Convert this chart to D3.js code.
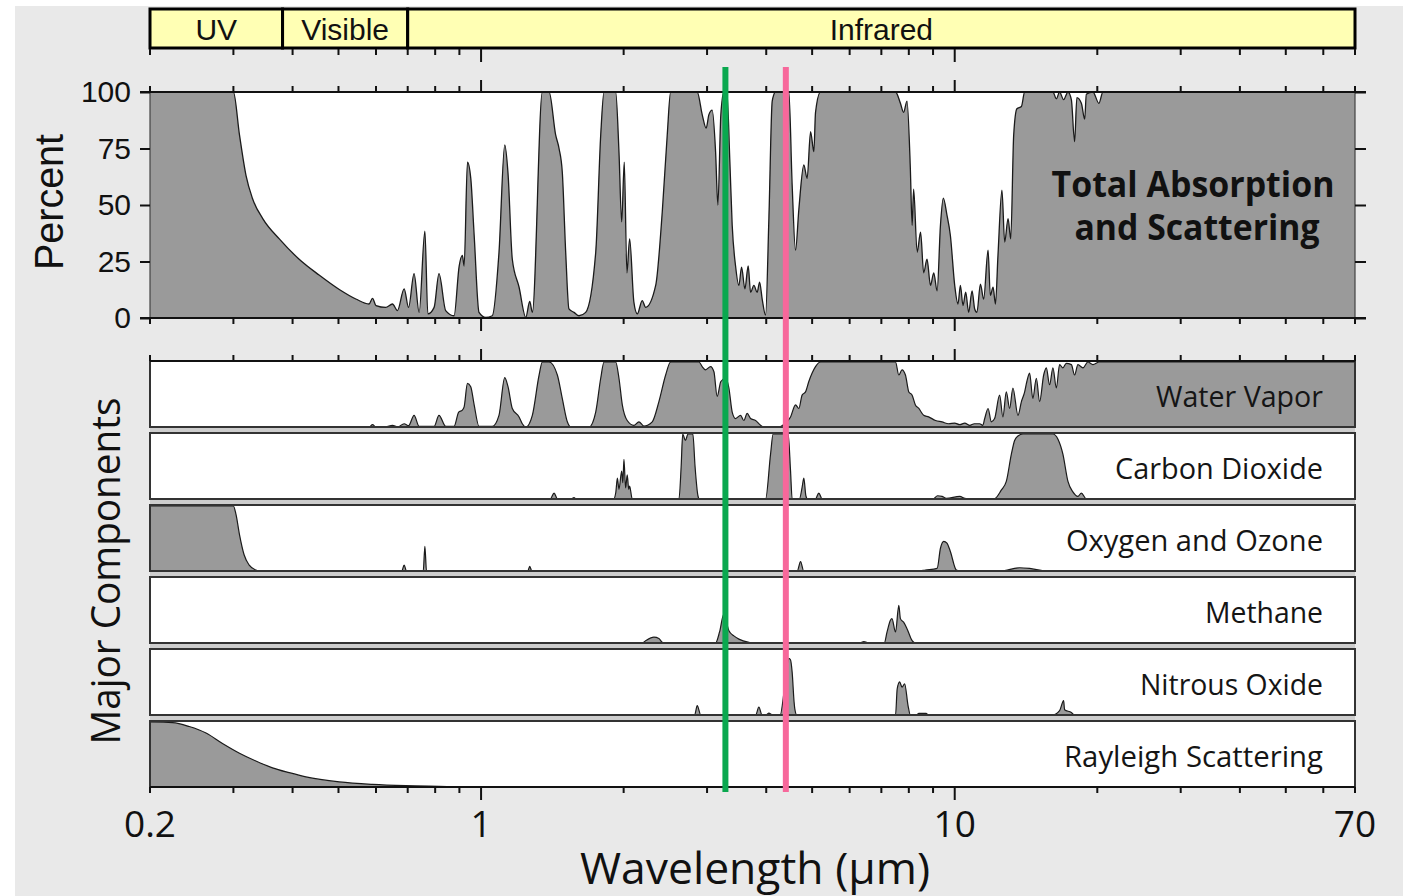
<!DOCTYPE html>
<html><head><meta charset="utf-8">
<script src="https://cdn.jsdelivr.net/npm/d3@7"></script>
<style>html,body{margin:0;padding:0;background:#fff;}svg{display:block}</style>
</head><body>
<svg id="chart" width="1403" height="896"></svg>
<script>
// ---------------- DATA ----------------
const regions = ["UV", "Visible", "Infrared"];
const regionBounds = [0.2, 0.381, 0.70, 70];          // µm
const percentTicks = [0, 25, 50, 75, 100];
const xTickLabels = [0.2, 1, 10, 70];
const majorTicks = [1, 10];
const markerWavelengths = [3.28, 4.40];               // green, pink
const totalLabel = ["Total Absorption", "and Scattering"];
const componentNames = ["Water Vapor", "Carbon Dioxide", "Oxygen and Ozone", "Methane", "Nitrous Oxide", "Rayleigh Scattering"];

// [wavelength µm, percent]
const totalAbsorption = [[0.2,100],[0.3,100],[0.309,81],[0.319,63],[0.329,53],[0.346,44],[0.375,35],[0.413,26],[0.455,19],[0.502,12.6],[0.544,8.4],[0.58,6.2],[0.59,8.7],[0.6,5.5],[0.629,4.7],[0.65,6.2],[0.666,3.3],[0.688,12.9],[0.703,4.7],[0.722,19.6],[0.74,2.5],[0.761,38.4],[0.772,1.8],[0.796,4.7],[0.815,19.6],[0.842,3.3],[0.877,1],[0.899,23],[0.913,27.7],[0.921,23],[0.936,69],[0.951,62],[0.967,36.6],[0.99,2.5],[1.023,0.3],[1.056,1],[1.091,29],[1.122,76.6],[1.14,64],[1.164,26],[1.203,13.6],[1.243,0.3],[1.267,7.3],[1.283,2.5],[1.347,100],[1.392,100],[1.437,81],[1.461,75],[1.484,64.7],[1.509,29],[1.533,4],[1.571,2.5],[1.61,1],[1.663,2.5],[1.746,29],[1.789,81],[1.818,100],[1.924,100],[1.955,73.6],[1.981,42.5],[2.006,69],[2.032,20],[2.059,35],[2.102,7],[2.137,1.8],[2.189,7.7],[2.226,4.7],[2.337,14.4],[2.413,47],[2.472,81],[2.513,100],[2.86,100],[2.93,90],[2.987,84],[3.027,90],[3.076,92],[3.127,73.6],[3.162,50],[3.208,90],[3.256,100],[3.304,100],[3.352,69],[3.39,41],[3.446,23],[3.502,14.4],[3.548,22.5],[3.606,12.9],[3.664,23],[3.707,11.4],[3.767,14.4],[3.828,11.4],[3.873,15.9],[3.922,8.4],[3.987,1.3],[4.052,44],[4.118,96],[4.186,100],[4.465,100],[4.537,59],[4.612,30],[4.687,48],[4.802,67.7],[4.88,61.8],[4.962,82.5],[5.042,73.6],[5.083,91],[5.207,100],[7.5,100],[7.68,95],[7.8,91],[7.93,96],[8.06,66],[8.13,41],[8.19,57],[8.33,29],[8.47,38],[8.6,20],[8.74,26],[8.89,14.4],[9.03,20],[9.18,12],[9.33,41],[9.46,53],[9.63,45.5],[9.79,36.6],[10,14.4],[10.16,6.2],[10.28,14.4],[10.41,5.5],[10.55,11.4],[10.7,2.5],[10.88,12],[11.02,4],[11.14,2.5],[11.33,15],[11.51,8.4],[11.76,30],[11.89,10],[12.05,13.6],[12.19,6.2],[12.34,27.7],[12.58,56.6],[12.75,33.6],[12.96,44],[13.13,35],[13.32,81],[13.53,92.6],[13.83,93.6],[14.05,100],[16.12,100],[16.39,97],[16.65,100],[16.98,96.6],[17.34,100],[17.63,96.6],[17.91,78],[18.11,97.5],[18.51,95],[18.81,88],[18.96,99],[19.58,100],[20.16,95],[20.55,100],[70,100]];

const waterVapor = [[0.2,0],[0.58,0],[0.59,3.6],[0.6,0],[0.629,0],[0.65,2.6],[0.666,0],[0.688,5],[0.703,2],[0.722,18],[0.74,1],[0.796,1],[0.815,18],[0.842,1],[0.877,1],[0.897,23],[0.913,26],[0.921,31],[0.936,67],[0.951,62],[0.967,34],[0.99,1],[1.056,1],[1.091,18],[1.122,76],[1.14,62],[1.164,28.5],[1.203,15.5],[1.222,5],[1.243,0],[1.283,18],[1.326,80],[1.347,100],[1.392,100],[1.449,80],[1.484,44],[1.521,8],[1.546,0],[1.69,0],[1.746,23],[1.789,75],[1.818,100],[1.924,100],[1.955,75],[1.987,34],[2.035,10],[2.102,2.6],[2.154,8],[2.207,1.5],[2.298,8],[2.374,39],[2.453,80],[2.513,100],[2.884,100],[2.93,93],[2.979,88],[3.052,93],[3.102,85],[3.151,47],[3.208,70],[3.287,75],[3.336,60],[3.39,23],[3.446,13],[3.531,18],[3.588,10],[3.646,21],[3.707,13],[3.798,10],[3.892,2.6],[3.954,0],[4.254,0],[4.378,5],[4.502,15.5],[4.612,34],[4.687,28.5],[4.762,49],[4.842,54],[4.92,70],[5.0,83],[5.083,93],[5.207,100],[7.5,100],[7.62,80],[7.74,88],[7.87,80],[8.0,54],[8.13,49],[8.26,34],[8.4,28.5],[8.6,18],[8.81,15.5],[9.11,10],[9.4,7.8],[9.71,5],[10.0,6],[10.25,3.6],[10.5,6],[10.76,2.6],[11.0,5],[11.29,5],[11.46,2.6],[11.57,13],[11.76,28.5],[11.95,8],[12.14,13],[12.44,49],[12.64,15.5],[12.85,54],[13.06,28.5],[13.27,60],[13.6,18],[13.83,39],[14.05,54],[14.2,70],[14.39,83],[14.62,44],[14.87,75],[15.11,39],[15.41,80],[15.61,91],[15.86,65],[16.12,91],[16.39,60],[16.65,96],[16.92,91],[17.2,98],[17.63,96],[17.91,80],[18.2,96],[18.65,91],[19.1,100],[19.58,96],[20.2,100],[70,100]];

const carbonDioxide = [[0.2,0],[1.40,0],[1.426,9],[1.45,0],[1.55,0],[1.571,2],[1.59,0],[1.905,0],[1.925,10],[1.94,32],[1.955,15],[1.981,43],[1.992,25],[2.003,61],[2.019,17],[2.035,37],[2.05,15],[2.059,20],[2.085,0],[2.617,0],[2.645,50],[2.665,100],[2.70,90],[2.735,100],[2.80,100],[2.83,50],[2.87,5],[2.89,0],[3.987,0],[4.085,69],[4.136,100],[4.45,100],[4.502,43],[4.537,0],[4.70,0],[4.76,17],[4.802,32],[4.85,5],[4.89,0],[5.08,0],[5.165,9],[5.25,0],[9.0,0],[9.2,5],[9.4,4],[9.6,1],[10.25,4],[10.5,1],[10.76,0],[12.1,0],[12.55,14],[12.85,27],[13.17,69],[13.38,90],[13.6,97],[13.93,100],[16.12,100],[16.52,92],[16.92,69],[17.34,27],[17.76,11],[18.2,4],[18.51,9],[18.96,0],[70,0]];

const oxygenOzone = [[0.2,100],[0.3,100],[0.3038,87],[0.309,56],[0.316,25],[0.324,9],[0.3346,1.5],[0.34,0],[0.68,0],[0.688,9],[0.696,0],[0.755,0],[0.761,38],[0.767,0],[1.255,0],[1.267,7],[1.28,0],[4.65,0],[4.726,14.5],[4.80,0],[8.4,0],[8.67,1.5],[9.18,4],[9.33,35],[9.48,45.6],[9.63,43],[9.79,30],[10.08,1.5],[10.3,0],[12.5,0],[13.71,5],[14.39,4],[15.61,0],[70,0]];

const methane = [[0.2,0],[2.189,0],[2.226,3.6],[2.317,9],[2.374,7],[2.413,1],[2.45,0],[3.127,0],[3.188,17],[3.256,45],[3.30,30],[3.336,19],[3.418,11],[3.502,6],[3.677,1],[3.75,0],[6.3,0],[6.427,2],[6.6,0],[7.1,0],[7.197,17],[7.316,35],[7.37,37.5],[7.5,17],[7.62,58],[7.68,37.5],[7.8,32],[7.93,22],[8.13,3.6],[8.26,0],[70,0]];

const nitrousOxide = [[0.2,0],[2.824,0],[2.86,14.5],[2.91,0],[3.80,0],[3.859,12],[3.92,0],[4.0,0],[4.052,3],[4.12,0],[4.28,0],[4.37,40],[4.465,87],[4.50,85],[4.537,66],[4.58,20],[4.597,9],[4.64,0],[7.5,0],[7.56,40],[7.65,51],[7.74,43],[7.84,48],[7.97,14.5],[8.06,0],[8.3,0],[8.4,2.6],[8.7,2.6],[8.8,0],[16.12,0],[16.65,6.7],[16.98,22],[17.06,8],[17.63,4],[17.91,0],[70,0]];

const rayleigh = [[0.2,100],[0.2233,99],[0.242,93],[0.2626,83],[0.2845,67],[0.309,52],[0.3346,40],[0.3628,29.5],[0.3936,22],[0.4268,15.5],[0.502,7.8],[0.59,4],[0.693,2],[0.815,1],[0.974,0],[70,0]];

const componentSeries = [waterVapor, carbonDioxide, oxygenOzone, methane, nitrousOxide, rayleigh];

// ---------------- DRAWING ----------------
const W = 1403, H = 896;
const L = 150, R = 1355;
const svg = d3.select("#chart");
const x = d3.scaleLog().domain([0.2, 70]).range([L, R]);
const allTicks = x.ticks();
const isMajor = d => majorTicks.some(m => Math.abs(m - d) < 1e-9);
const SANS = "'Liberation Sans', Arial, sans-serif";
const MYR = "'Open Sans', 'Noto Sans', sans-serif";
const FILL = "#9a9a9a";

svg.append("rect").attr("width", W).attr("height", H).attr("fill", "#fff");
svg.append("rect").attr("x", 15).attr("y", 6).attr("width", W - 15).attr("height", H - 6).attr("fill", "#e9e9e9");

// tick helper
function ticksAt(y, dir, minor, major) {
  const g = svg.append("g");
  g.selectAll("line").data(allTicks).join("line")
    .attr("x1", d => x(d)).attr("x2", d => x(d))
    .attr("y1", y).attr("y2", d => y + dir * (isMajor(d) ? major : minor))
    .attr("stroke", "#111").attr("stroke-width", 2);
}

// ---- region band ----
const bandTop = 9, bandBot = 48;
regions.forEach((r, i) => {
  const x0 = x(regionBounds[i]), x1 = x(regionBounds[i + 1]);
  svg.append("rect").attr("x", x0).attr("y", bandTop).attr("width", x1 - x0).attr("height", bandBot - bandTop)
    .attr("fill", "#ffffb4").attr("stroke", "#000").attr("stroke-width", 3);
  svg.append("text").attr("x", (x0 + x1) / 2).attr("y", 40).attr("text-anchor", "middle")
    .style("font-family", SANS).style("font-size", "30px").attr("fill", "#111").text(r);
});
ticksAt(bandBot + 1, 1, 6, 13);

// ---- top panel ----
const topY0 = 318, topY1 = 92;
const y = d3.scaleLinear().domain([0, 100]).range([topY0, topY1]);
svg.append("rect").attr("x", L).attr("y", topY1).attr("width", R - L).attr("height", topY0 - topY1).attr("fill", "#fff");
svg.append("clipPath").attr("id", "clipTop").append("rect")
  .attr("x", L).attr("y", topY1).attr("width", R - L).attr("height", topY0 - topY1);
const areaTop = d3.area().x(d => x(d[0])).y0(y(0)).y1(d => y(d[1])).curve(d3.curveMonotoneX);
const lineTop = d3.line().x(d => x(d[0])).y(d => y(d[1])).curve(d3.curveMonotoneX);
const gTop = svg.append("g").attr("clip-path", "url(#clipTop)");
gTop.append("path").datum(totalAbsorption).attr("d", areaTop).attr("fill", FILL);
gTop.append("path").datum(totalAbsorption).attr("d", lineTop).attr("fill", "none").attr("stroke", "#1a1a1a").attr("stroke-width", 1.3);
svg.append("rect").attr("x", L).attr("y", topY1).attr("width", R - L).attr("height", topY0 - topY1)
  .attr("fill", "none").attr("stroke", "#444").attr("stroke-width", 1.2);

// y axes
const yAxisL = svg.append("g").attr("transform", `translate(${L},0)`)
  .call(d3.axisLeft(y).tickValues(percentTicks).tickSize(10).tickPadding(9));
yAxisL.select(".domain").remove();
yAxisL.selectAll("line").attr("stroke", "#111").attr("stroke-width", 2);
yAxisL.selectAll("text").style("font-family", SANS).style("font-size", "30px").attr("fill", "#111");
const yAxisR = svg.append("g").attr("transform", `translate(${R},0)`)
  .call(d3.axisRight(y).tickValues(percentTicks).tickSize(11).tickFormat(""));
yAxisR.select(".domain").remove();
yAxisR.selectAll("line").attr("stroke", "#111").attr("stroke-width", 2);
[0, 100].forEach(v => svg.append("line").attr("x1", L - 10).attr("x2", R + 11)
  .attr("y1", y(v)).attr("y2", y(v)).attr("stroke", "#111").attr("stroke-width", 2.2));
ticksAt(topY1, -1, 6, 12);
ticksAt(topY0, 1, 6, 13);

svg.append("text").attr("transform", `translate(63,${(topY0 + topY1) / 2 - 3}) rotate(-90)`)
  .attr("text-anchor", "middle").style("font-family", SANS).style("font-size", "40px")
  .attr("textLength", 136).attr("lengthAdjust", "spacingAndGlyphs").attr("fill", "#111").text("Percent");

totalLabel.forEach((t, i) => {
  svg.append("text").attr("x", i === 0 ? 1193 : 1197).attr("y", i === 0 ? 197 : 240)
    .attr("text-anchor", "middle").style("font-family", MYR).style("font-weight", "700").style("font-size", "35px")
    .attr("textLength", i === 0 ? 283 : 245).attr("lengthAdjust", "spacingAndGlyphs")
    .attr("fill", "#111").text(t);
});

// ---- component panels ----
const panelTop0 = 361, panelH = 66, panelStep = 72;
const lowBottom = panelTop0 + panelStep * 5 + panelH;
svg.append("rect").attr("x", L).attr("y", panelTop0).attr("width", R - L).attr("height", lowBottom - panelTop0).attr("fill", "#cdcdcd");
const labelWidths = [167, 208, 257, 118, 183, 259];
componentSeries.forEach((series, i) => {
  const top = panelTop0 + i * panelStep, bot = top + panelH;
  const yp = d3.scaleLinear().domain([0, 100]).range([bot, top + 1]);
  svg.append("rect").attr("x", L).attr("y", top).attr("width", R - L).attr("height", panelH).attr("fill", "#fff");
  svg.append("clipPath").attr("id", "clipP" + i).append("rect").attr("x", L).attr("y", top).attr("width", R - L).attr("height", panelH);
  const g = svg.append("g").attr("clip-path", `url(#clipP${i})`);
  g.append("path").datum(series).attr("fill", FILL)
    .attr("d", d3.area().x(d => x(d[0])).y0(yp(0)).y1(d => yp(d[1])).curve(d3.curveMonotoneX));
  g.append("path").datum(series).attr("fill", "none").attr("stroke", "#1a1a1a").attr("stroke-width", 1.2)
    .attr("d", d3.line().x(d => x(d[0])).y(d => yp(d[1])).curve(d3.curveMonotoneX));
  svg.append("rect").attr("x", L).attr("y", top).attr("width", R - L).attr("height", panelH)
    .attr("fill", "none").attr("stroke", "#333").attr("stroke-width", 2);
  svg.append("text").attr("x", 1323).attr("y", top + 45.5).attr("text-anchor", "end")
    .style("font-family", MYR).style("font-size", "30px")
    .attr("textLength", labelWidths[i]).attr("lengthAdjust", "spacingAndGlyphs")
    .attr("fill", "#151515").text(componentNames[i]);
});
ticksAt(panelTop0, -1, 6, 12);
ticksAt(lowBottom, 1, 6, 13);
svg.append("line").attr("x1", L).attr("x2", R).attr("y1", panelTop0).attr("y2", panelTop0).attr("stroke", "#111").attr("stroke-width", 2);
svg.append("line").attr("x1", L).attr("x2", R).attr("y1", lowBottom).attr("y2", lowBottom).attr("stroke", "#111").attr("stroke-width", 2);

svg.append("text").attr("transform", `translate(120,${(panelTop0 + lowBottom) / 2 - 3}) rotate(-90)`)
  .attr("text-anchor", "middle").style("font-family", MYR).style("font-size", "40px")
  .attr("textLength", 347).attr("lengthAdjust", "spacingAndGlyphs").attr("fill", "#111").text("Major Components");

// ---- x labels ----
svg.append("g").selectAll("text").data(xTickLabels).join("text")
  .attr("x", d => x(d)).attr("y", 837).attr("text-anchor", "middle")
  .style("font-family", MYR).style("font-size", "37px").attr("fill", "#111")
  .text(d => d3.format("~g")(d));
svg.append("text").attr("x", 755).attr("y", 884).attr("text-anchor", "middle")
  .style("font-family", MYR).style("font-size", "44px")
  .attr("textLength", 350).attr("lengthAdjust", "spacingAndGlyphs").attr("fill", "#111").text("Wavelength (\u00b5m)");

// ---- marker lines ----
const markerColors = ["#0aa84f", "#f7689b"];
svg.append("g").selectAll("line").data(markerWavelengths).join("line")
  .attr("x1", d => x(d)).attr("x2", d => x(d)).attr("y1", 67).attr("y2", 792)
  .attr("stroke", (d, i) => markerColors[i]).attr("stroke-width", 6);
</script>
</body></html>
